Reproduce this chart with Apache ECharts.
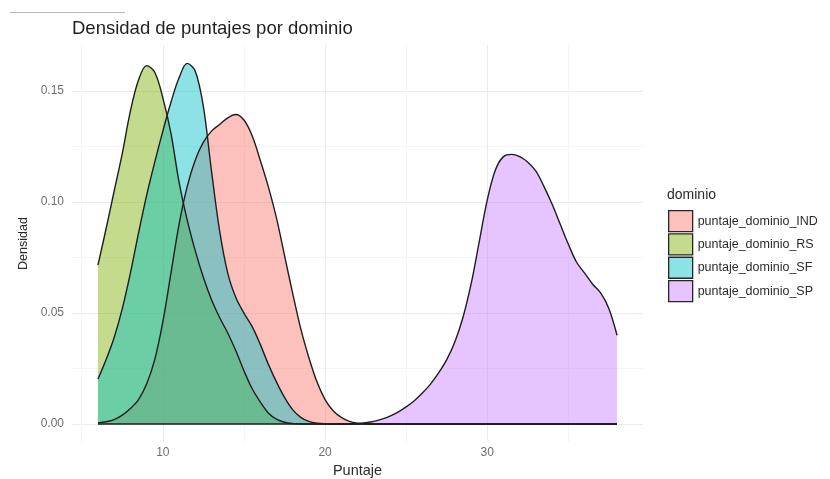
<!DOCTYPE html>
<html>
<head>
<meta charset="utf-8">
<script src="https://cdn.jsdelivr.net/npm/echarts@6/dist/echarts.min.js"></script>
<style>
  html, body { margin: 0; padding: 0; background: #ffffff; }
  #chart { width: 830px; height: 479px; }
</style>
</head>
<body>
<div id="chart"></div>
<script>
// Evaluation grid of the kernel density estimates (score axis)
const puntaje = [
  6, 6.5, 7, 7.5, 8, 8.5, 9, 9.5, 10, 10.5, 11, 11.5, 12, 12.5, 13, 13.5,
  14, 14.5, 15, 15.5, 16, 16.5, 17, 17.5, 18, 18.5, 19, 19.5, 20, 20.5, 21, 21.5,
  22, 22.5, 23, 23.5, 24, 24.5, 25, 25.5, 26, 26.5, 27, 27.5, 28, 28.5, 29, 29.5,
  30, 30.5, 31, 31.5, 32, 32.5, 33, 33.5, 34, 34.5, 35, 35.5, 36, 36.5, 37, 37.5, 38
];

const dominios = ['puntaje_dominio_IND', 'puntaje_dominio_RS', 'puntaje_dominio_SF', 'puntaje_dominio_SP'];

const densidadIND = [
  0.0005, 0.001, 0.002, 0.004, 0.007, 0.011, 0.018, 0.029, 0.046, 0.068, 0.090, 0.107, 0.119, 0.127, 0.132, 0.135,
  0.138, 0.1395, 0.137, 0.130, 0.119, 0.107, 0.093, 0.076, 0.059, 0.043, 0.030, 0.019, 0.011, 0.006, 0.003, 0.0012,
  0.0004, 0.0001, 0, 0, 0, 0, 0, 0, 0, 0, 0, 0, 0, 0, 0, 0,
  0, 0, 0, 0, 0, 0, 0, 0, 0, 0, 0, 0, 0, 0, 0, 0, 0
];

const densidadRS = [
  0.0716, 0.088, 0.105, 0.122, 0.141, 0.155, 0.1615, 0.1585, 0.147, 0.131, 0.109, 0.092, 0.078, 0.066, 0.056, 0.048,
  0.041, 0.033, 0.024, 0.016, 0.010, 0.005, 0.0022, 0.0008, 0.0002, 0, 0, 0, 0, 0, 0, 0,
  0, 0, 0, 0, 0, 0, 0, 0, 0, 0, 0, 0, 0, 0, 0, 0,
  0, 0, 0, 0, 0, 0, 0, 0, 0, 0, 0, 0, 0, 0, 0, 0, 0
];

const densidadSF = [
  0.0203, 0.029, 0.039, 0.052, 0.068, 0.086, 0.103, 0.118, 0.132, 0.145, 0.156, 0.1625, 0.159, 0.143, 0.114, 0.087,
  0.068, 0.057, 0.050, 0.044, 0.036, 0.027, 0.019, 0.012, 0.0065, 0.003, 0.0012, 0.0004, 0.0001, 0, 0, 0,
  0, 0, 0, 0, 0, 0, 0, 0, 0, 0, 0, 0, 0, 0, 0, 0,
  0, 0, 0, 0, 0, 0, 0, 0, 0, 0, 0, 0, 0, 0, 0, 0, 0
];

const densidadSP = [
  0, 0, 0, 0, 0, 0, 0, 0, 0, 0, 0, 0, 0, 0, 0, 0,
  0, 0, 0, 0, 0, 0, 0, 0, 0, 0, 0, 0, 0, 0, 0, 0,
  0.0002, 0.0006, 0.0012, 0.0022, 0.0036, 0.0054, 0.0077, 0.0105, 0.014, 0.018, 0.023, 0.029, 0.037, 0.048, 0.063, 0.082,
  0.101, 0.1145, 0.1205, 0.1215, 0.1205, 0.118, 0.114, 0.107, 0.099, 0.090, 0.081, 0.073, 0.068, 0.063, 0.059, 0.052, 0.040
];

const xMajor = [10, 20, 30];
const xMinor = [5, 15, 25, 35];
const yMajor = [0, 0.05, 0.10, 0.15];
const yMinor = [0.025, 0.075, 0.125];

const rellenos = [
  'rgba(248, 118, 109, 0.45)',
  'rgba(124, 174, 0, 0.45)',
  'rgba(0, 191, 196, 0.45)',
  'rgba(199, 124, 255, 0.45)'
];

const FONT = '"Liberation Sans", Arial, Helvetica, sans-serif';

function serieDensidad(nombre, valores, relleno) {
  return {
    name: nombre,
    type: 'line',
    xAxisIndex: 0,
    yAxisIndex: 0,
    data: puntaje.map((x, i) => [x, valores[i]]),
    symbol: 'none',
    showSymbol: false,
    smooth: 0.35,
    color: relleno,
    lineStyle: { color: '#1e1e1e', width: 1.4 },
    areaStyle: { color: relleno, opacity: 1, origin: 'auto' },
    emphasis: { disabled: true },
    silent: true,
    animation: false
  };
}

const chart = echarts.init(document.getElementById('chart'), null, { renderer: 'canvas' });

chart.setOption({
  backgroundColor: '#ffffff',
  animation: false,
  textStyle: { fontFamily: FONT },
  title: {
    text: 'Densidad de puntajes por dominio',
    left: 72,
    top: 19,
    padding: 0,
    textStyle: { fontFamily: FONT, fontSize: 18.5, fontWeight: 'normal', color: '#1f1f1f' }
  },
  grid: {
    left: 72, right: 187, top: 45, bottom: 37,
    containLabel: false, outerBoundsMode: 'none'
  },
  legend: {
    data: dominios,
    orient: 'vertical',
    left: 668,
    top: 210,
    padding: 0,
    icon: 'rect',
    itemWidth: 24,
    itemHeight: 21,
    itemGap: 1,
    selectedMode: false,
    itemStyle: { borderColor: '#262626', borderWidth: 1.3 },
    textStyle: { fontFamily: FONT, fontSize: 12.5, color: '#2b2b2b' }
  },
  xAxis: [
    {
      type: 'value', min: 4.4, max: 39.6,
      axisLine: { show: false },
      axisTick: { show: false, customValues: xMajor },
      axisLabel: { customValues: xMajor, color: '#6e6e6e', fontSize: 12, margin: 5, fontFamily: FONT },
      splitLine: { show: true, lineStyle: { color: '#EBEBEB', width: 1 } },
      name: 'Puntaje', nameLocation: 'middle', nameGap: 21,
      nameTextStyle: { fontFamily: FONT, fontSize: 14.5, color: '#2b2b2b' }
    },
    {
      type: 'value', min: 4.4, max: 39.6, position: 'bottom',
      axisLine: { show: false },
      axisTick: { show: false, customValues: xMinor },
      axisLabel: { show: false },
      splitLine: { show: true, lineStyle: { color: '#F3F3F3', width: 0.8 } }
    }
  ],
  yAxis: [
    {
      type: 'value', min: -0.0081, max: 0.1708,
      axisLine: { show: false },
      axisTick: { show: false, customValues: yMajor },
      axisLabel: {
        customValues: yMajor, color: '#6e6e6e', fontSize: 12, margin: 8, fontFamily: FONT,
        formatter: v => v.toFixed(2)
      },
      splitLine: { show: true, lineStyle: { color: '#EBEBEB', width: 1 } },
      name: 'Densidad', nameLocation: 'middle', nameGap: 35, nameRotate: 90,
      nameTextStyle: { fontFamily: FONT, fontSize: 12.5, color: '#2b2b2b' }
    },
    {
      type: 'value', min: -0.0081, max: 0.1708, position: 'left',
      axisLine: { show: false },
      axisTick: { show: false, customValues: yMinor },
      axisLabel: { show: false },
      splitLine: { show: true, lineStyle: { color: '#F3F3F3', width: 0.8 } }
    }
  ],
  graphic: [
    {
      type: 'line',
      shape: { x1: 10, y1: 12.5, x2: 125, y2: 12.5 },
      style: { stroke: '#b8b8b8', lineWidth: 1 },
      silent: true
    },
    {
      type: 'text',
      left: 667,
      top: 188,
      style: { text: 'dominio', font: '14px ' + FONT, fill: '#2b2b2b' },
      silent: true
    }
  ],
  series: [
    serieDensidad(dominios[0], densidadIND, rellenos[0]),
    serieDensidad(dominios[1], densidadRS, rellenos[1]),
    serieDensidad(dominios[2], densidadSF, rellenos[2]),
    serieDensidad(dominios[3], densidadSP, rellenos[3])
  ]
});
</script>
</body>
</html>
